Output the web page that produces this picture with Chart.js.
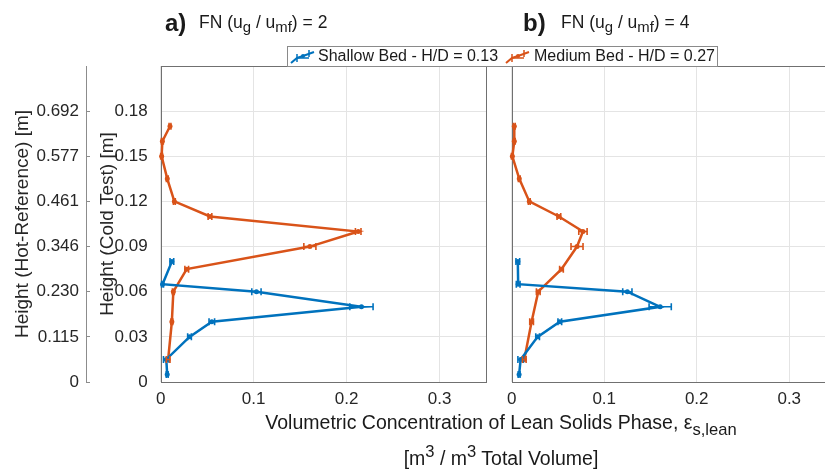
<!DOCTYPE html>
<html>
<head>
<meta charset="utf-8">
<script src="https://cdn.jsdelivr.net/npm/chart.js@4.4.1/dist/chart.umd.min.js"></script>
<style>
  html, body { margin: 0; padding: 0; overflow: hidden; background: #fff; }
  body { width: 825px; height: 473px; position: relative; font-family: "Liberation Sans", Arial, sans-serif; color: #1a1a1a; }
  canvas { position: absolute; top: 0; }
  #chartA { left: 0; }
  #chartB { left: 490px; }
  .txt { position: absolute; white-space: nowrap; }
  .panel { font-size: 24px; font-weight: bold; line-height: 24px; }
  .fn { font-size: 17.5px; line-height: 17px; }
  .fn sub { font-size: 0.85em; vertical-align: baseline; position: relative; top: 0.3em; line-height: 0; }
  #legend { position: absolute; left: 287px; top: 46px; width: 429px; height: 19px; border: 1px solid #8a8a8a; background: #fff; font-size: 16px; line-height: 19px; }
  #legend span, #legend svg { position: absolute; }
  .xt { font-size: 19.5px; line-height: 19px; left: 0; width: 1002px; text-align: center; }
  .xt sub { font-size: 0.85em; vertical-align: baseline; position: relative; top: 0.38em; line-height: 0; }
  .xt sup { font-size: 0.85em; vertical-align: baseline; position: relative; top: -0.5em; line-height: 0; }
</style>
</head>
<body>
<canvas id="chartA" width="490" height="473"></canvas>
<canvas id="chartB" width="348" height="473"></canvas>

<div class="txt panel" style="left:165px; top:11px;">a)</div>
<div class="txt fn" style="left:199px; top:14px;">FN (u<sub>g</sub> / u<sub>mf</sub>) = 2</div>
<div class="txt panel" style="left:523px; top:11px;">b)</div>
<div class="txt fn" style="left:561px; top:14px;">FN (u<sub>g</sub> / u<sub>mf</sub>) = 4</div>

<div id="legend">
  <svg style="left:2px; top:2px;" width="26" height="16" viewBox="0 0 26 16">
    <polyline points="1,14 7,9 13,7 24,3" fill="none" stroke="#0072BD" stroke-width="2"/>
    <path d="M7,5 V13 M19,1 V8 M7,9 H19" stroke="#0072BD" stroke-width="1.5" fill="none"/>
    <circle cx="13" cy="7" r="2" fill="#0072BD"/>
  </svg>
  <span style="left:30px; top:-1px;">Shallow Bed - H/D = 0.13</span>
  <svg style="left:217px; top:2px;" width="26" height="16" viewBox="0 0 26 16">
    <polyline points="1,14 7,9 13,7 24,3" fill="none" stroke="#D95319" stroke-width="2"/>
    <path d="M7,5 V13 M19,1 V8 M7,9 H19" stroke="#D95319" stroke-width="1.5" fill="none"/>
    <circle cx="13" cy="7" r="2" fill="#D95319"/>
  </svg>
  <span style="left:246px; top:-1px;">Medium Bed - H/D = 0.27</span>
</div>

<div class="txt xt" style="top:413px;">Volumetric Concentration of Lean Solids Phase, ε<sub>s,lean</sub></div>
<div class="txt xt" style="top:449px;">[m<sup>3</sup> / m<sup>3</sup> Total Volume]</div>

<script>
// Heights of the measuring ports (cold test rig) [m]
const heightsShallow = [0.005, 0.015, 0.03, 0.04, 0.05, 0.06, 0.065, 0.08];
const heightsMedium = [0.015, 0.04, 0.06, 0.075, 0.09, 0.10, 0.11, 0.12, 0.135, 0.15, 0.16, 0.17];

// Lean phase solids concentration, FN = 2
const shallowFN2 = [0.007, 0.006, 0.031, 0.055, 0.216, 0.103, 0.002, 0.012];
const shallowFN2Err = [0.001, 0.003, 0.002, 0.003, 0.0125, 0.005, 0.001, 0.002];
const mediumFN2 = [0.008, 0.012, 0.0136, 0.028, 0.1605, 0.2125, 0.053, 0.0147, 0.0071, 0.001, 0.0018, 0.010];
const mediumFN2Err = [0.002, 0.001, 0.001, 0.002, 0.0065, 0.003, 0.002, 0.001, 0.001, 0.001, 0.001, 0.001];

// Lean phase solids concentration, FN = 4
const shallowFN4 = [0.008, 0.0097, 0.028, 0.052, 0.1605, 0.125, 0.007, 0.0066];
const shallowFN4Err = [0.001, 0.003, 0.002, 0.002, 0.012, 0.005, 0.002, 0.002];
const mediumFN4 = [0.0136, 0.0215, 0.0287, 0.0538, 0.0706, 0.077, 0.051, 0.019, 0.0082, 0.0007, 0.0028, 0.0028];
const mediumFN4Err = [0.002, 0.002, 0.002, 0.002, 0.0065, 0.0045, 0.002, 0.001, 0.001, 0.001, 0.001, 0.001];

// Axis ticks
const xTicks = [0, 0.1, 0.2, 0.3];
const coldTicks = [0, 0.03, 0.06, 0.09, 0.12, 0.15, 0.18];
const hotTickLabels = ['0', '0.115', '0.230', '0.346', '0.461', '0.577', '0.692'];

const blue = '#0072BD';
const orange = '#D95319';
const tickColour = '#262626';
const gridColour = '#e4e4e4';
const boxColour = '#707070';

Chart.defaults.font.family = '"Liberation Sans", Arial, sans-serif';
Chart.defaults.color = tickColour;

function series(xs, ys, errs) {
    return xs.map((v, i) => ({ x: v, y: ys[i], err: errs[i] }));
}

function makeDataset(label, colour, points) {
    return {
        label: label,
        data: points,
        showLine: true,
        borderColor: colour,
        backgroundColor: colour,
        borderWidth: 2.5,
        pointRadius: 2.5,
        pointHoverRadius: 2.5,
        pointBorderWidth: 0,
        clip: false
    };
}

function setTicks(values) {
    return function(scale) {
        scale.ticks = values.map(v => ({ value: v }));
    };
}

// horizontal error bars with end caps
const errorBars = {
    id: 'errorBars',
    afterDatasetsDraw(chart) {
        const ctx = chart.ctx;
        const xs = chart.scales.x, ys = chart.scales.y;
        chart.data.datasets.forEach(ds => {
            ctx.save();
            ctx.strokeStyle = ds.borderColor;
            ctx.lineWidth = 1.6;
            ds.data.forEach(p => {
                const py = ys.getPixelForValue(p.y);
                const xl = xs.getPixelForValue(p.x - p.err);
                const xr = xs.getPixelForValue(p.x + p.err);
                ctx.beginPath();
                ctx.moveTo(xl, py); ctx.lineTo(xr, py);
                ctx.moveTo(xl, py - 3.5); ctx.lineTo(xl, py + 3.5);
                ctx.moveTo(xr, py - 3.5); ctx.lineTo(xr, py + 3.5);
                ctx.stroke();
            });
            ctx.restore();
        });
    }
};

// axes box around the plot area
const plotBox = {
    id: 'plotBox',
    beforeDatasetsDraw(chart) {
        const { ctx, chartArea: a } = chart;
        ctx.save();
        ctx.strokeStyle = boxColour;
        ctx.lineWidth = 1;
        ctx.strokeRect(Math.round(a.left) + 0.5, Math.round(a.top) + 0.5,
            Math.round(a.right - a.left), Math.round(a.bottom - a.top));
        ctx.restore();
    }
};

function xScale() {
    return {
        type: 'linear',
        min: 0,
        max: 0.35,
        afterBuildTicks: setTicks(xTicks),
        afterFit: s => { s.height = 91; },
        grid: { color: gridColour, drawTicks: false },
        border: { display: false },
        ticks: { font: { size: 17 }, padding: 7, color: tickColour }
    };
}

function coldScale(showLabels) {
    return {
        type: 'linear',
        position: 'left',
        weight: 1,
        min: 0,
        max: 0.21,
        afterBuildTicks: setTicks(coldTicks),
        afterFit: s => { s.width = showLabels ? 74.7 : 21.7; },
        grid: { color: gridColour, drawTicks: false },
        border: { display: false },
        ticks: { display: showLabels, font: { size: 17 }, padding: 13, color: tickColour },
        title: {
            display: showLabels,
            text: 'Height (Cold Test) [m]',
            font: { size: 19 },
            color: tickColour,
            padding: { top: 10, bottom: 0 }
        }
    };
}

const options = {
    responsive: false,
    animation: false,
    devicePixelRatio: 1,
    events: [],
    plugins: { legend: { display: false }, tooltip: { enabled: false } }
};

new Chart(document.getElementById('chartA'), {
    type: 'scatter',
    data: {
        datasets: [
            makeDataset('Shallow Bed - H/D = 0.13', blue, series(shallowFN2, heightsShallow, shallowFN2Err)),
            makeDataset('Medium Bed - H/D = 0.27', orange, series(mediumFN2, heightsMedium, mediumFN2Err))
        ]
    },
    options: {
        ...options,
        layout: { padding: { top: 66, right: 4, left: 0, bottom: 0 } },
        scales: {
            x: xScale(),
            y: coldScale(true),
            yHot: {
                type: 'linear',
                position: 'left',
                weight: 2,
                min: 0,
                max: 0.21,
                afterBuildTicks: setTicks(coldTicks),
                afterFit: s => { s.width = 86; },
                grid: { display: true, drawOnChartArea: false, drawTicks: true, tickLength: -4, color: '#8c8c8c' },
                border: { display: true, color: '#8c8c8c' },
                ticks: {
                    font: { size: 17 },
                    padding: 11,
                    color: tickColour,
                    callback: (v, i) => hotTickLabels[i]
                },
                title: {
                    display: true,
                    text: 'Height (Hot-Reference) [m]',
                    font: { size: 19 },
                    color: tickColour,
                    padding: { top: 11, bottom: 0 }
                }
            }
        }
    },
    plugins: [plotBox, errorBars]
});

new Chart(document.getElementById('chartB'), {
    type: 'scatter',
    data: {
        datasets: [
            makeDataset('Shallow Bed - H/D = 0.13', blue, series(shallowFN4, heightsShallow, shallowFN4Err)),
            makeDataset('Medium Bed - H/D = 0.27', orange, series(mediumFN4, heightsMedium, mediumFN4Err))
        ]
    },
    options: {
        ...options,
        layout: { padding: { top: 66, right: 0, left: 0, bottom: 0 } },
        scales: {
            x: xScale(),
            y: coldScale(false)
        }
    },
    plugins: [plotBox, errorBars]
});
</script>
</body>
</html>
